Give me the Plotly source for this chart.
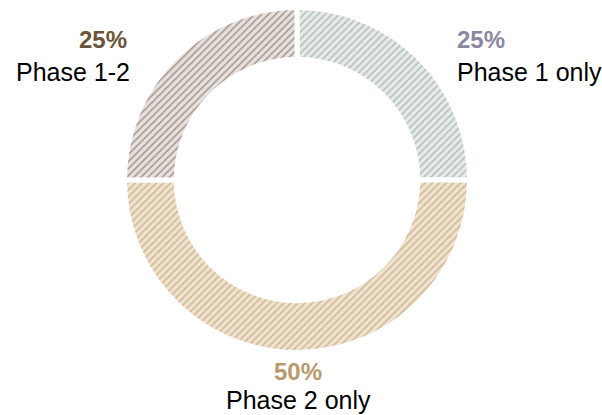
import plotly.graph_objects as go

categories = ["Phase 1 only", "Phase 2 only", "Phase 1-2"]
values = [25, 50, 25]
pct_labels = ["25%", "50%", "25%"]
bg_colors = ["#e6ebe7", "#efe3d0", "#e7e0dd"]
fg_colors = ["#7f918a", "#b08a55", "#5e4c43"]
pct_colors = ["#8a88a0", "#b8996e", "#6b5538"]

W, H = 602, 415
cx, cy, R = 297, 180, 172.5

fig = go.Figure()
fig.add_trace(go.Pie(
    labels=categories,
    values=values,
    sort=False,
    direction="clockwise",
    rotation=0,
    hole=0.70,
    textinfo="none",
    hoverinfo="label+percent",
    showlegend=False,
    marker=dict(
        colors=bg_colors,
        line=dict(color="white", width=5),
        pattern=dict(shape="/", fgcolor=fg_colors, bgcolor=bg_colors,
                     size=5, solidity=0.3, fillmode="overlay"),
    ),
    domain=dict(x=[(cx - R) / W, (cx + R) / W],
                y=[1 - (cy + R) / H, 1 - (cy - R) / H]),
))

font = "Liberation Sans, Arial, sans-serif"

def px(x):
    return x / W

def py(y):
    return 1 - y / H

ann = [
    # Phase 1 only (right)
    dict(x=px(455), y=py(40), text="<b>" + pct_labels[0] + "</b>", xanchor="left",
         font=dict(color=pct_colors[0], size=24)),
    dict(x=px(455), y=py(72), text=categories[0], xanchor="left",
         font=dict(color="black", size=25)),
    # Phase 1-2 (left)
    dict(x=px(129), y=py(40), text="<b>" + pct_labels[2] + "</b>", xanchor="right",
         font=dict(color=pct_colors[2], size=24)),
    dict(x=px(132), y=py(72), text=categories[2], xanchor="right",
         font=dict(color="black", size=25)),
    # Phase 2 only (bottom)
    dict(x=px(298), y=py(371), text="<b>" + pct_labels[1] + "</b>", xanchor="center",
         font=dict(color=pct_colors[1], size=24)),
    dict(x=px(298), y=py(400), text=categories[1], xanchor="center",
         font=dict(color="black", size=25)),
]
for a in ann:
    a.update(xref="paper", yref="paper", yanchor="middle", showarrow=False)
    a["font"]["family"] = font

fig.update_layout(
    width=W, height=H,
    margin=dict(l=0, r=0, t=0, b=0),
    paper_bgcolor="white",
    plot_bgcolor="white",
    annotations=ann,
)

fig.write_html("out.html")
